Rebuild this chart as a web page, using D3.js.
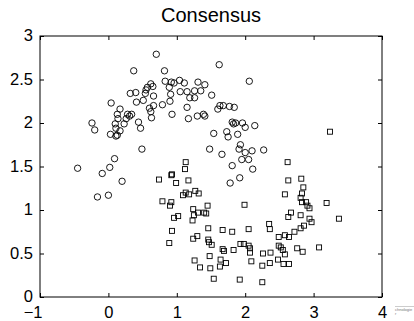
<!DOCTYPE html>
<html>
<head>
<meta charset="utf-8">
<script src="https://cdn.jsdelivr.net/npm/d3@7"></script>
<style>
  body { margin: 0; background: #fff; }
  svg { display: block; font-family: "Liberation Sans", Arial, sans-serif; }
  .axis path { display: none; }
  .axis line { stroke: #000; }
  .axis text { fill: #000; font-size: 16.5px; }
</style>
</head>
<body>
<div id="chart"></div>
<script>
// cluster 1 (circles)
const circles = [
  [0.70,2.79],[1.62,2.67],[0.37,2.60],[0.82,2.60],[2.06,2.48],[0.83,2.48],[0.92,2.47],[0.96,2.46],
  [1.04,2.49],[1.11,2.46],[1.31,2.47],[1.41,2.44],[0.62,2.45],[0.65,2.42],[0.57,2.41],[0.89,2.41],
  [0.55,2.38],[0.32,2.34],[0.40,2.35],[0.54,2.34],[0.91,2.33],[1.05,2.36],[1.15,2.36],[1.26,2.37],
  [1.35,2.37],[0.66,2.31],[1.19,2.29],[1.26,2.29],[1.51,2.32],[0.51,2.26],[0.41,2.24],[0.90,2.25],
  [0.04,2.23],[0.17,2.16],[0.66,2.20],[0.60,2.17],[0.79,2.21],[1.15,2.18],[1.63,2.20],[1.68,2.20],
  [1.77,2.19],[1.84,2.18],[1.60,2.16],[0.13,2.10],[0.28,2.10],[0.31,2.08],[0.34,2.10],[0.62,2.13],
  [0.63,2.06],[0.93,2.10],[1.17,2.05],[1.30,2.08],[1.39,2.10],[1.41,2.08],[0.14,2.05],[0.26,2.05],
  [-0.24,2.00],[-0.20,1.92],[0.10,1.99],[0.23,1.99],[0.11,1.94],[0.44,2.01],[0.47,1.94],[0.17,1.91],
  [0.03,1.87],[0.11,1.85],[0.13,1.86],[1.81,2.01],[1.83,1.99],[1.86,2.00],[1.96,2.00],[2.00,1.95],
  [2.14,1.97],[1.54,1.88],[1.73,1.90],[1.75,1.84],[1.89,1.87],[0.49,1.70],[1.48,1.70],[1.66,1.64],
  [1.93,1.75],[1.91,1.70],[2.00,1.66],[2.10,1.68],[2.27,1.69],[0.09,1.59],[1.95,1.58],[2.05,1.58],
  [-0.45,1.48],[0.02,1.49],[-0.09,1.42],[1.81,1.51],[2.11,1.47],[0.20,1.33],[1.92,1.37],[1.78,1.31],
  [-0.16,1.15],[0.00,1.17]
];

// cluster 2 (squares)
const squares = [
  [3.24,1.90],[1.13,1.55],[1.12,1.47],[2.62,1.55],[0.74,1.35],[0.93,1.41],[0.92,1.40],[1.17,1.34],
  [0.99,1.31],[2.63,1.34],[2.82,1.36],[2.85,1.26],[1.13,1.20],[1.09,1.17],[1.18,1.18],[1.27,1.22],
  [1.32,1.19],[2.58,1.18],[2.83,1.19],[2.81,1.14],[0.79,1.10],[0.92,1.09],[0.90,1.05],[1.45,1.05],
  [1.99,1.06],[2.83,1.09],[2.89,1.09],[2.91,1.05],[2.94,1.02],[3.19,1.08],[1.24,1.01],[1.31,0.97],
  [1.40,0.97],[1.43,0.96],[1.25,0.94],[1.23,0.88],[1.02,0.93],[0.96,0.91],[2.67,0.97],[2.63,0.92],
  [2.81,0.94],[2.94,0.90],[2.97,0.86],[3.37,0.90],[2.35,0.84],[2.36,0.78],[0.93,0.76],[0.89,0.62],
  [1.46,0.79],[1.67,0.77],[1.81,0.75],[2.05,0.78],[2.72,0.75],[2.81,0.79],[2.86,0.82],[1.24,0.67],
  [1.30,0.70],[1.46,0.66],[1.47,0.63],[1.51,0.60],[2.49,0.69],[2.58,0.71],[2.64,0.69],[1.93,0.61],
  [1.98,0.61],[2.05,0.59],[2.07,0.56],[2.07,0.51],[1.67,0.55],[1.69,0.53],[1.83,0.54],[2.49,0.59],
  [2.52,0.57],[2.55,0.54],[2.58,0.49],[2.26,0.50],[2.37,0.51],[2.76,0.56],[2.84,0.52],[3.08,0.57],
  [1.48,0.47],[1.26,0.42],[1.34,0.34],[1.49,0.33],[1.64,0.43],[1.72,0.39],[1.63,0.35],[2.09,0.41],
  [2.25,0.36],[2.36,0.39],[2.48,0.43],[2.56,0.38],[2.64,0.38],[1.54,0.21],[1.92,0.20],[2.25,0.17]
];

const xTicks = [-1, 0, 1, 2, 3, 4];
const yTicks = [0, 0.5, 1, 1.5, 2, 2.5, 3];
const title = "Consensus";

const W = 414, H = 321;
const margin = { top: 36, right: 32, bottom: 24, left: 40 };
const width = W - margin.left - margin.right;
const height = H - margin.top - margin.bottom;

const svg = d3.select("#chart").append("svg")
  .attr("width", W)
  .attr("height", H);

svg.append("rect").attr("width", W).attr("height", H).attr("fill", "#fff");

const g = svg.append("g").attr("transform", `translate(${margin.left},${margin.top})`);

const xScale = d3.scaleLinear().domain([-1, 4]).range([0, width]);
const yScale = d3.scaleLinear().domain([0, 3]).range([height, 0]);

const fmt = d => (d < 0 ? "\u2212" + Math.abs(d) : String(d));
const tick = 4;

g.append("g")
  .attr("class", "axis axis-x")
  .attr("transform", `translate(0,${height})`)
  .call(d3.axisBottom(xScale).tickValues(xTicks).tickFormat(fmt).tickSizeInner(-tick).tickSizeOuter(0).tickPadding(9))
  .selectAll("text")
  .attr("dy", "0.75em")
  .attr("dx", d => (d < 0 ? "-0.45em" : 0));

g.append("g")
  .attr("class", "axis axis-x-top")
  .call(d3.axisTop(xScale).tickValues(xTicks).tickFormat("").tickSizeInner(-tick).tickSizeOuter(0));

g.append("g")
  .attr("class", "axis axis-y")
  .call(d3.axisLeft(yScale).tickValues(yTicks).tickFormat(d3.format("")).tickSizeInner(-tick).tickSizeOuter(0).tickPadding(7))
  .selectAll("text")
  .attr("dy", "0.28em");

g.append("g")
  .attr("class", "axis axis-y-right")
  .attr("transform", `translate(${width},0)`)
  .call(d3.axisRight(yScale).tickValues(yTicks).tickFormat("").tickSizeInner(-tick).tickSizeOuter(0));

g.append("rect")
  .attr("width", width)
  .attr("height", height)
  .attr("fill", "none")
  .attr("stroke", "#000")
  .attr("stroke-width", 1);

g.selectAll(".circ")
  .data(circles)
  .enter().append("circle")
  .attr("class", "circ")
  .attr("cx", d => xScale(d[0]))
  .attr("cy", d => yScale(d[1]))
  .attr("r", 3.2)
  .attr("fill", "none")
  .attr("stroke", "#000")
  .attr("stroke-width", 0.9);

const s = 5;
g.selectAll(".sq")
  .data(squares)
  .enter().append("rect")
  .attr("class", "sq")
  .attr("x", d => xScale(d[0]) - s / 2)
  .attr("y", d => yScale(d[1]) - s / 2)
  .attr("width", s)
  .attr("height", s)
  .attr("fill", "none")
  .attr("stroke", "#000")
  .attr("stroke-width", 0.9);

svg.append("text")
  .attr("x", margin.left + width / 2)
  .attr("y", 22)
  .attr("text-anchor", "middle")
  .attr("font-size", "20px")
  .attr("fill", "#000")
  .text(title);

// small cut-off caption in the lower right corner
svg.append("line")
  .attr("x1", 395).attr("x2", 414).attr("y1", 306.5).attr("y2", 306.5)
  .attr("stroke", "#999").attr("stroke-width", 0.5);
svg.append("text")
  .attr("x", 395).attr("y", 310.5)
  .attr("font-size", "4px").attr("fill", "#777")
  .text("chnologie");
svg.append("text")
  .attr("x", 395).attr("y", 314.5)
  .attr("font-size", "4px").attr("fill", "#777")
  .text("r");
</script>
</body>
</html>
